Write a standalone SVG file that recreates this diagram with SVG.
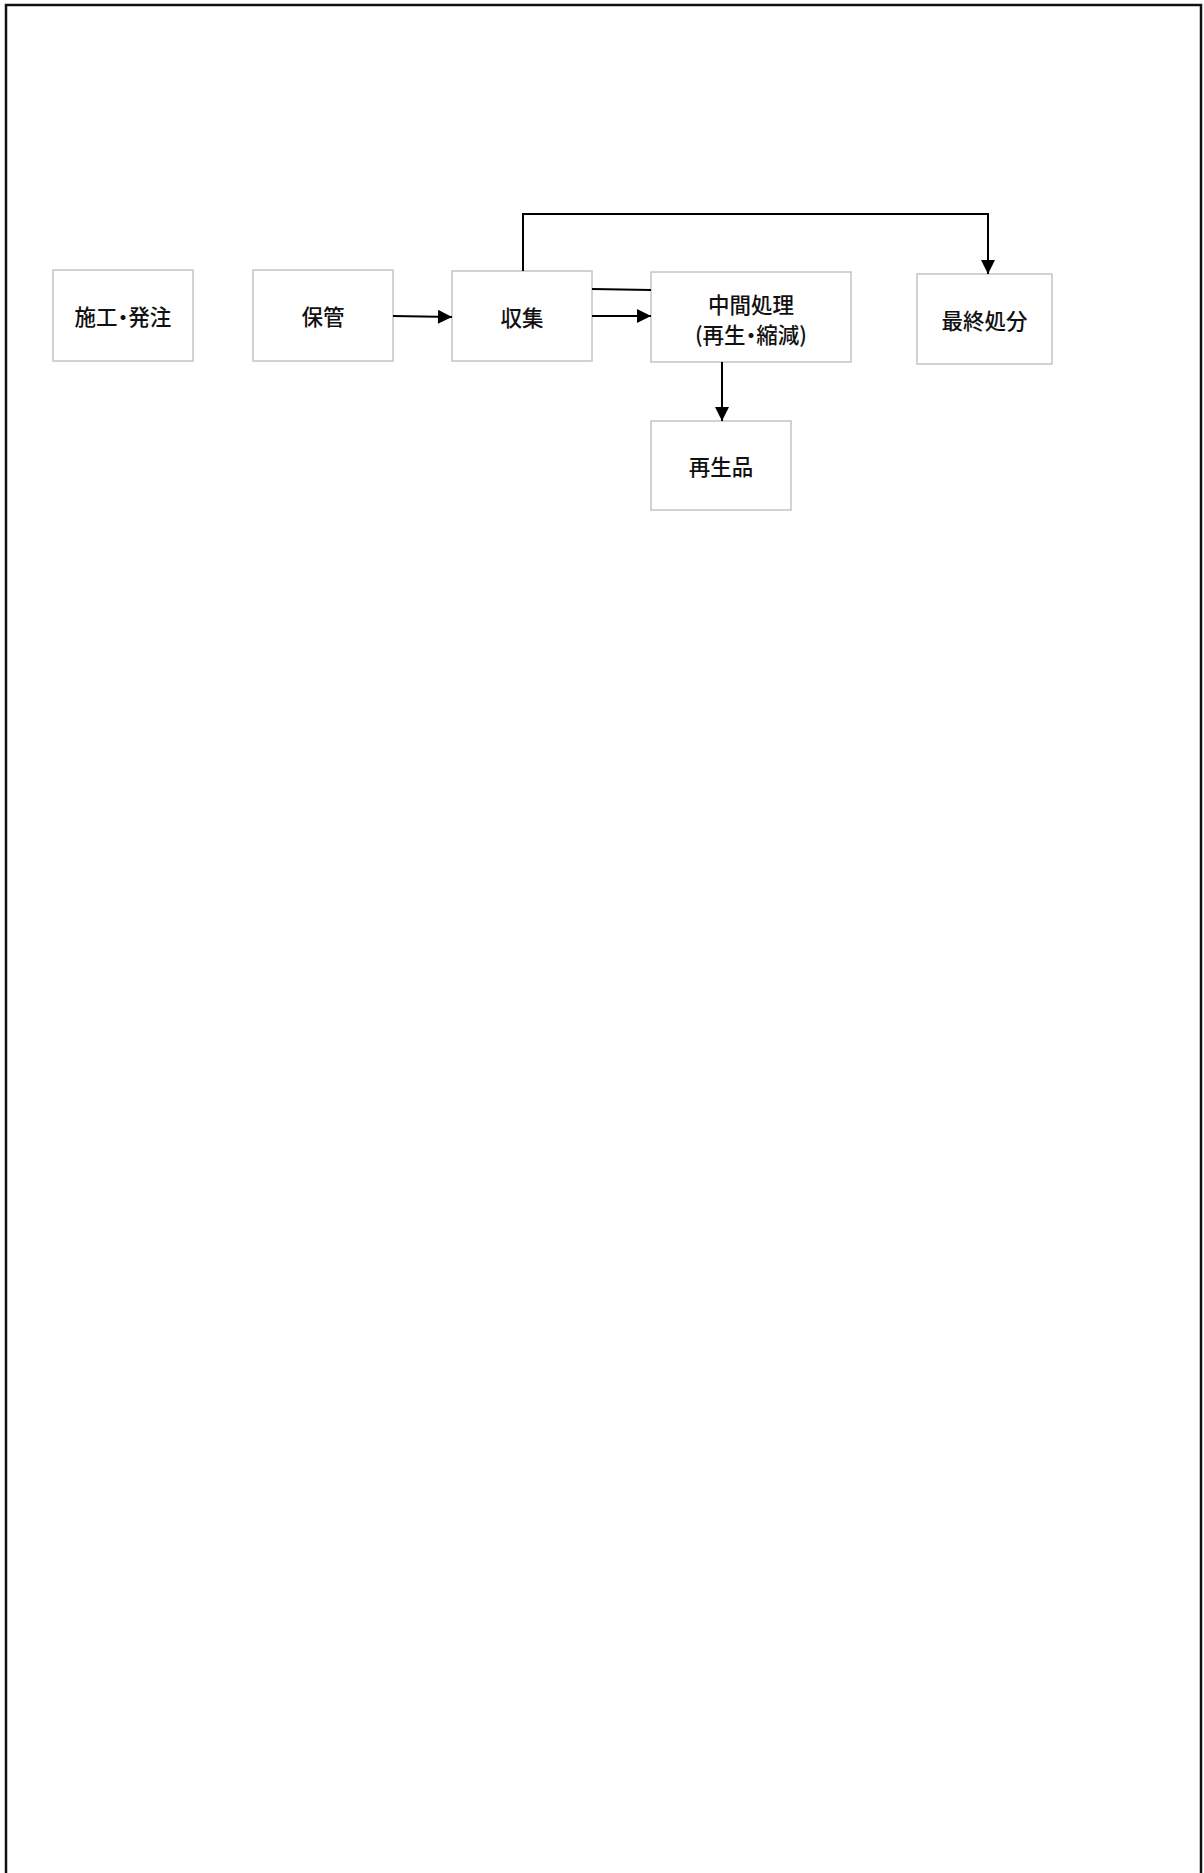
<svg xmlns="http://www.w3.org/2000/svg" width="1204" height="1873" viewBox="0 0 1204 1873">
<defs>
<marker id="ah" viewBox="0 0 10 10" refX="10" refY="5" markerWidth="15" markerHeight="14" markerUnits="userSpaceOnUse" orient="auto">
<path d="M0,0 L10,5 L0,10 z" fill="#000"/>
</marker>
<style>
.box{fill:#fff;stroke:#c4c4c4;stroke-width:1.5}
.t{font-family:"Noto Sans CJK JP","Noto Sans CJK SC",sans-serif;font-size:21.5px;font-weight:500;fill:#111;text-anchor:middle;dominant-baseline:central}
.d{font-feature-settings:"palt"}
.c{fill:none;stroke:#000;stroke-width:2}
</style>
</defs>
<rect width="1204" height="1873" fill="#fff"/>
<path d="M6,1873 V5 H1201 V1873" fill="none" stroke="#111" stroke-width="2.5"/>
<g id="n1"><rect class="box" x="53" y="270" width="140" height="91"/><text class="t d" x="123" y="315.5">施工・発注</text></g>
<g id="n2"><rect class="box" x="253" y="270" width="140" height="91"/><text class="t" x="323" y="315.5">保管</text></g>
<g id="n3"><rect class="box" x="452" y="271" width="140" height="90"/><text class="t" x="522" y="316">収集</text></g>
<g id="n4"><rect class="box" x="651" y="272" width="200" height="90"/><text class="t" x="751" y="303">中間処理</text><text class="t d" x="751" y="333">(再生・縮減)</text></g>
<g id="n5"><rect class="box" x="917" y="274" width="135" height="90"/><text class="t" x="984.5" y="319">最終処分</text></g>
<g id="n6"><rect class="box" x="651" y="421" width="140" height="89"/><text class="t" x="721" y="465.5">再生品</text></g>
<g id="connectors">
<path class="c" d="M393,316 L452,317" marker-end="url(#ah)"/>
<path class="c" d="M523,271 V214 H988 V274" marker-end="url(#ah)"/>
<path class="c" d="M592,289 L651,290"/>
<path class="c" d="M592,316 H651" marker-end="url(#ah)"/>
<path class="c" d="M722,362 V421" marker-end="url(#ah)"/>
</g>
</svg>
